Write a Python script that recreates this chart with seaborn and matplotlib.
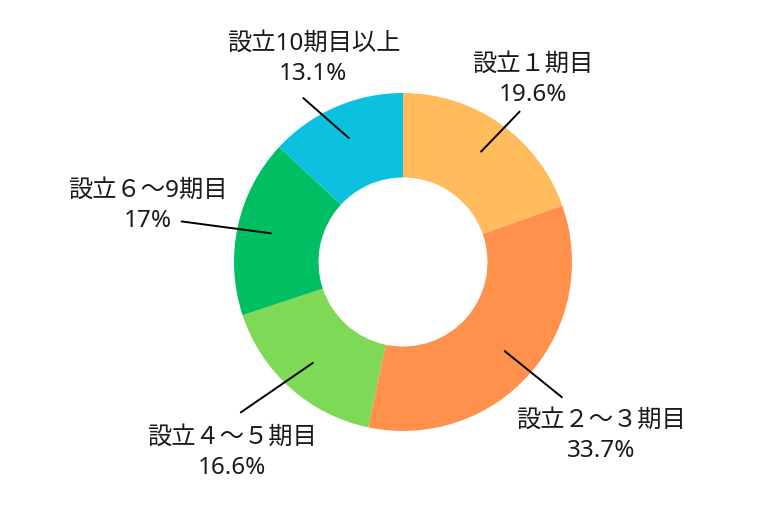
import numpy as np
import seaborn as sns
import matplotlib.pyplot as plt

# データ
labels = ["設立１期目", "設立２～３期目", "設立４～５期目", "設立６～9期目", "設立10期目以上"]
pct_text = ["19.6%", "33.7%", "16.6%", "17%", "13.1%"]
values = [19.6, 33.7, 16.6, 17.0, 13.1]
colors = ["#FFBB5C", "#FF914D", "#7ED957", "#00BF63", "#0CC0DF"]

# ラベル位置 (半径=1 の座標)
text_pos = [(0.77, 1.08), (1.17, -1.03), (-1.01, -1.13), (-1.51, 0.33), (-0.53, 1.20)]
line_end = [(0.69, 0.89), (0.94, -0.80), (-0.96, -0.89), (-1.31, 0.24), (-0.59, 0.97)]

sns.set_theme(style="white")
plt.rcParams['font.family'] = ['Noto Sans', 'Noto Sans CJK JP', 'DejaVu Sans']

fig = plt.figure(figsize=(7.62, 5.15), dpi=100)
ax = fig.add_axes([0, 0, 1, 1])

wedges, _ = ax.pie(values, colors=colors, startangle=90, counterclock=False,
                   radius=1.0, wedgeprops=dict(width=0.5, edgecolor="none"))

for i, w in enumerate(wedges):
    ang = np.deg2rad((w.theta1 + w.theta2) / 2)
    x0, y0 = 0.8 * np.cos(ang), 0.8 * np.sin(ang)
    x1, y1 = line_end[i]
    ax.plot([x0, x1], [y0, y1], color="black", lw=1.4)
    tx, ty = text_pos[i]
    ax.text(tx, ty, labels[i] + "\n" + pct_text[i], ha="center", va="center",
            fontsize=17.5, color="#1a1a1a", linespacing=1.35)

ax.set_xlim(-403 / 169, (762 - 403) / 169)
ax.set_ylim(-(515 - 262) / 169, 262 / 169)
ax.set_aspect("auto")
ax.axis("off")

fig.savefig("out.png", dpi=100)
